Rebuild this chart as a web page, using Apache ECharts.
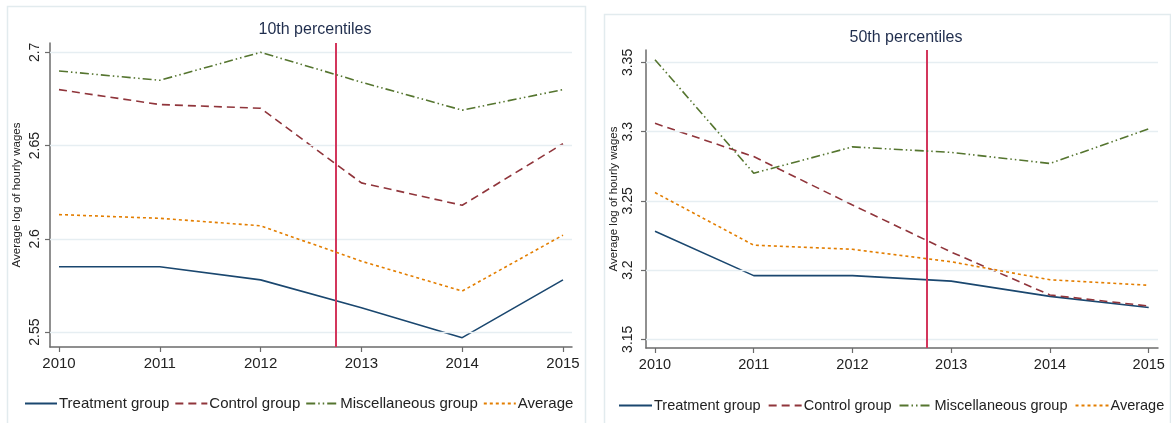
<!DOCTYPE html>
<html>
<head>
<meta charset="utf-8">
<script src="https://cdn.jsdelivr.net/npm/echarts@6/dist/echarts.min.js"></script>
<style>
html,body{margin:0;padding:0;background:#fff;}
#chart{width:1171px;height:423px;}
</style>
</head>
<body>
<div id="chart"></div>
<script>
const years = [2010, 2011, 2012, 2013, 2014, 2015];
const seriesNames = ['Treatment group', 'Control group', 'Miscellaneous group', 'Average'];
const titles = ['10th percentiles', '50th percentiles'];
const yAxisName = 'Average log of hourly wages';
const p10Treatment = [2.585, 2.585, 2.578, 2.563, 2.547, 2.578];
const p10Control   = [2.680, 2.672, 2.670, 2.630, 2.618, 2.651];
const p10Misc      = [2.690, 2.685, 2.700, 2.684, 2.669, 2.680];
const p10Average   = [2.613, 2.611, 2.607, 2.588, 2.572, 2.602];
const p50Treatment = [3.228, 3.196, 3.196, 3.192, 3.181, 3.173];
const p50Control   = [3.306, 3.282, 3.247, 3.213, 3.182, 3.174];
const p50Misc      = [3.352, 3.270, 3.289, 3.285, 3.277, 3.302];
const p50Average   = [3.256, 3.218, 3.215, 3.206, 3.193, 3.189];
const p10Ticks = [2.55, 2.6, 2.65, 2.7];
const p50Ticks = [3.15, 3.2, 3.25, 3.3, 3.35];
const policyYear = 2012.75;

const colors = ['#1a476f', '#90353b', '#55752f', '#e37e00'];
const dashes = ['solid', [8, 5], [9, 3, 1.5, 3, 1.5, 3], [3, 3]];
const FONT = 'Liberation Sans, Arial, sans-serif';
const gridColor = '#e6eef2';
const axisColor = '#6b6b6b';
const redLine = '#d3365c';

const panels = [
  {vals: [p10Treatment, p10Control, p10Misc, p10Average], ticks: p10Ticks,
   grid: {left: 50, right: 599, top: 43, bottom: 76},
   xMin: 2009.9107, xMax: 2015.0893, yMin: 2.542, yMax: 2.705,
   fs: 15, yfs: 14, nameGap: 27, labelMargin: 8},
  {vals: [p50Treatment, p50Control, p50Misc, p50Average], ticks: p50Ticks,
   grid: {left: 646, right: 13, top: 50, bottom: 75},
   xMin: 2009.909, xMax: 2015.094, yMin: 3.1437, yMax: 3.359,
   fs: 14.5, yfs: 14, nameGap: 23, labelMargin: 11}
];

const pair = (arr) => years.map((y, i) => [y, arr[i]]);

const grids = [], xAxes = [], yAxes = [], series = [];
panels.forEach((p, pi) => {
  grids.push(Object.assign({containLabel: false}, p.grid));
  xAxes.push({
    type: 'value', gridIndex: pi, min: p.xMin, max: p.xMax,
    axisLine: {show: true, lineStyle: {color: axisColor, width: 1.5}},
    axisTick: {show: true, customValues: years, length: 5, lineStyle: {color: axisColor, width: 1.2}},
    axisLabel: {customValues: years, formatter: v => String(Math.round(v)), color: '#222',
      fontFamily: FONT, fontSize: p.fs, margin: 9},
    splitLine: {show: false}
  });
  yAxes.push({
    type: 'value', gridIndex: pi, min: p.yMin, max: p.yMax,
    name: yAxisName, nameLocation: 'middle', nameGap: p.nameGap, nameRotate: 90,
    nameTextStyle: {fontFamily: FONT, fontSize: 11.5, color: '#222'},
    axisLine: {show: true, lineStyle: {color: axisColor, width: 1.5}},
    axisTick: {show: true, customValues: p.ticks, length: 5, lineStyle: {color: axisColor, width: 1.2}},
    axisLabel: {customValues: p.ticks, rotate: 90, formatter: v => String(v), color: '#222',
      fontFamily: FONT, fontSize: p.yfs, margin: p.labelMargin},
    splitLine: {show: false}
  });
  series.push({
    type: 'line', xAxisIndex: pi, yAxisIndex: pi, data: [], z: 1, silent: true,
    markLine: {silent: true, symbol: 'none', label: {show: false},
      lineStyle: {color: gridColor, width: 1.3, type: 'solid'},
      data: p.ticks.map(v => ({yAxis: v}))}
  });
  p.vals.forEach((arr, si) => {
    series.push({
      name: seriesNames[si], type: 'line', xAxisIndex: pi, yAxisIndex: pi,
      data: pair(arr), symbol: 'none', z: 3 + si,
      lineStyle: {color: colors[si], width: 1.6, type: dashes[si]},
      itemStyle: {color: colors[si]}
    });
  });
  series.push({
    type: 'line', xAxisIndex: pi, yAxisIndex: pi, data: [], z: 10, silent: true,
    markLine: {silent: true, symbol: 'none', label: {show: false},
      lineStyle: {color: redLine, width: 2, type: 'solid'},
      data: [{xAxis: policyYear}]}
  });
});

const option = {
  backgroundColor: '#ffffff',
  animation: false,
  title: [
    {text: titles[0], left: 310, top: 17, textAlign: 'center',
      textStyle: {fontFamily: FONT, fontSize: 16, fontWeight: 'normal', color: '#1f2d4d'}},
    {text: titles[1], left: 901, top: 25, textAlign: 'center',
      textStyle: {fontFamily: FONT, fontSize: 16, fontWeight: 'normal', color: '#1f2d4d'}}
  ],
  legend: [
    {data: seriesNames, left: 19, top: 391, width: 600, itemWidth: 32, itemHeight: 14, itemGap: 5,
      itemStyle: {opacity: 0},
      textStyle: {fontFamily: FONT, fontSize: 15, color: '#222', padding: [0, 0, 0, -3]}, selectedMode: false},
    {data: seriesNames, left: 613, top: 393, width: 600, itemWidth: 33, itemHeight: 14, itemGap: 7,
      itemStyle: {opacity: 0},
      textStyle: {fontFamily: FONT, fontSize: 14.5, color: '#222', padding: [0, 0, 0, -3]}, selectedMode: false}
  ],
  graphic: [
    {type: 'rect', shape: {x: 7.5, y: 6.5, width: 578, height: 430}, silent: true,
      style: {fill: 'none', stroke: '#e2ebee', lineWidth: 1.5}},
    {type: 'rect', shape: {x: 604.5, y: 14.5, width: 566, height: 430}, silent: true,
      style: {fill: 'none', stroke: '#e2ebee', lineWidth: 1.5}}
  ],
  grid: grids,
  xAxis: xAxes,
  yAxis: yAxes,
  series: series
};

const chart = echarts.init(document.getElementById('chart'), null, {renderer: 'canvas'});
chart.setOption(option);
</script>
</body>
</html>
